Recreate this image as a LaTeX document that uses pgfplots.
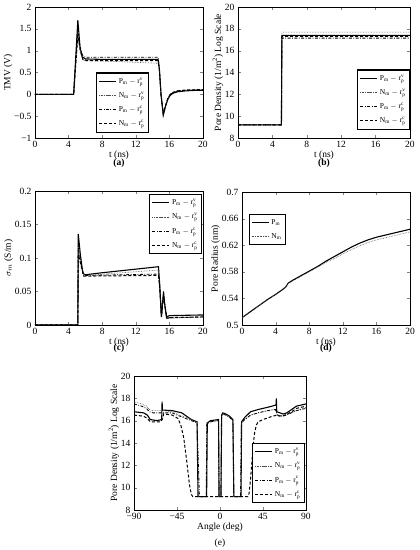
\documentclass[border=0pt]{standalone}
\usepackage{pgfplots}
\pgfplotsset{compat=1.18}
\usepackage{fontspec}
\setmainfont{Liberation Serif}
\pgfplotsset{
  every axis/.append style={
    scale only axis, anchor=south west,
    tick align=inside, tick pos=both,
    font=\fontsize{9.5}{11}\selectfont,
    /pgf/number format/assume math mode=true,
    axis line style={line width=0.6pt},
    major tick length=3pt,
    xlabel style={yshift=4pt},
    ylabel style={yshift=-5pt},
    legend cell align=left,
    legend style={font=\fontsize{7.5}{8}\selectfont, draw=black, line width=1.2pt, row sep=3.2pt, inner sep=2pt, inner ysep=3pt},
  },
  sP/.style={black, line width=1.1pt, solid},
  sN/.style={black!70, line width=0.6pt, densely dotted},
  sPc/.style={black, line width=0.8pt, dash pattern=on 3pt off 1.5pt on 0.8pt off 1.5pt},
  sNc/.style={black, line width=1pt, dash pattern=on 3pt off 2pt},
}
\begin{document}
\begin{tikzpicture}[x=1pt,y=1pt]
\path[use as bounding box] (0,0) rectangle (420,550);
% (a)
\begin{axis}[at={(35pt,412pt)}, width=168pt, height=131pt,
  xmin=0, xmax=20, ymin=-1, ymax=2,
  xtick={0,4,...,20}, ytick={-1,-0.5,0,0.5,1,1.5,2},
  yticklabels={−1,−0.5,0,0.5,1,1.5,2},
  xlabel={t (ns)}, ylabel={TMV (V)},
  legend style={at={(0.363,0.038)}, anchor=south west}]
\addplot[sP] coordinates {(0,0)(4.6,0)(5.1,1.70)(5.35,1.1)(5.6,0.86)(6.0,0.81)(8,0.80)(14.65,0.80)(14.8,0.6)(15.0,0.0)(15.27,-0.48)(15.5,-0.3)(15.8,-0.12)(16.1,-0.02)(16.5,0.03)(17,0.06)(18,0.08)(19,0.09)(20,0.09)};
\addplot[sN] coordinates {(0,0)(4.6,0)(5.1,1.30)(5.4,0.95)(5.7,0.79)(6,0.77)(10,0.75)(14.65,0.71)(14.8,0.55)(15.0,0.0)(15.27,-0.45)(15.5,-0.28)(15.8,-0.1)(16.1,0.0)(16.5,0.05)(17,0.08)(18,0.10)(20,0.11)};
\addplot[sPc] coordinates {(0,0)(4.6,0)(5.1,1.50)(5.4,1.05)(5.7,0.88)(6,0.85)(14.65,0.85)(14.8,0.62)(15.0,0.0)(15.27,-0.46)(15.5,-0.29)(15.8,-0.1)(16.1,0.0)(16.5,0.05)(17,0.08)(18,0.09)(20,0.10)};
\addplot[sNc] coordinates {(0,0)(4.6,0)(5.1,1.35)(5.4,1.0)(5.7,0.80)(6,0.77)(14.65,0.77)(14.8,0.58)(15.0,0.0)(15.27,-0.45)(15.5,-0.28)(15.8,-0.1)(16.1,0.0)(16.5,0.05)(17,0.08)(18,0.10)(20,0.11)};
\legend{$\mathrm{P_m-r_p^v}$,$\mathrm{N_m-r_p^v}$,$\mathrm{P_m-r_p^c}$,$\mathrm{N_m-r_p^c}$}
\end{axis}
% (b)
\begin{axis}[at={(238pt,412pt)}, width=172pt, height=131pt,
  xmin=0, xmax=20, ymin=8, ymax=20,
  xtick={0,4,...,20}, ytick={8,10,...,20},
  xlabel={t (ns)}, ylabel={Pore Density (1/m\textsuperscript{2}) Log Scale},
  legend style={at={(1,0.061)}, anchor=south east}]
\addplot[sP] coordinates {(0,9.2)(5.05,9.2)(5.1,17.4)(20,17.4)};
\addplot[sN] coordinates {(0,9.2)(5.05,9.2)(5.1,17.7)(20,17.7)};
\addplot[sPc] coordinates {(0,9.2)(5.05,9.2)(5.1,17.15)(20,17.15)};
\addplot[sNc] coordinates {(0,9.2)(5.05,9.2)(5.1,17.3)(20,17.3)};
\legend{$\mathrm{P_m-r_p^v}$,$\mathrm{N_m-r_p^v}$,$\mathrm{P_m-r_p^c}$,$\mathrm{N_m-r_p^c}$}
\end{axis}
% (c)
\begin{axis}[at={(35pt,225pt)}, width=168pt, height=134pt,
  xmin=0, xmax=20, ymin=0, ymax=0.2,
  xtick={0,4,...,20}, ytick={0,0.05,0.1,0.15,0.2},
  yticklabels={0,0.05,0.1,0.15,0.2},
  xlabel={t (ns)}, ylabel={$\sigma_m$ (S/m)},
  legend style={at={(0.995,0.98)}, anchor=north east}]
\addplot[sP] coordinates {(0,0)(5.1,0)(5.15,0.136)(5.4,0.105)(5.7,0.077)(6,0.075)(8,0.078)(14.7,0.087)(14.85,0.06)(15.05,0.012)(15.3,0.05)(15.45,0.03)(15.65,0.012)(16,0.014)(20,0.015)};
\addplot[sN] coordinates {(0,0)(5.1,0)(5.15,0.11)(5.5,0.09)(5.8,0.075)(6,0.074)(14.7,0.082)(14.85,0.06)(15.05,0.012)(15.3,0.045)(15.45,0.03)(15.7,0.009)(16,0.01)(20,0.012)};
\addplot[sPc] coordinates {(0,0)(5.1,0)(5.15,0.115)(5.5,0.09)(5.8,0.074)(6,0.074)(14.7,0.076)(14.85,0.055)(15.05,0.012)(15.3,0.045)(15.45,0.03)(15.7,0.01)(16,0.011)(20,0.012)};
\addplot[sNc] coordinates {(0,0)(5.1,0)(5.15,0.105)(5.5,0.088)(5.8,0.073)(6,0.073)(14.7,0.074)(14.85,0.055)(15.05,0.012)(15.3,0.044)(15.45,0.03)(15.7,0.01)(16,0.011)(20,0.012)};
\legend{$\mathrm{P_m-r_p^v}$,$\mathrm{N_m-r_p^v}$,$\mathrm{P_m-r_p^c}$,$\mathrm{N_m-r_p^c}$}
\end{axis}
% (d)
\begin{axis}[at={(242pt,225pt)}, width=168pt, height=133pt,
  xmin=0, xmax=20, ymin=0.5, ymax=0.7,
  xtick={0,4,...,20}, ytick={0.5,0.54,0.58,0.62,0.66,0.7},
  yticklabels={0.5,0.54,0.58,0.62,0.66,0.7},
  xlabel={t (ns)}, ylabel={Pore Radius (nm)},
  legend style={at={(0.04,0.835)}, anchor=north west}]
\addplot[sP] coordinates {(0,0.511)(1,0.52)(2,0.529)(3,0.538)(4,0.546)(4.8,0.553)(5.2,0.557)(5.5,0.563)(6,0.567)(7,0.574)(8,0.581)(9,0.588)(10,0.596)(11,0.603)(12,0.61)(13,0.617)(14,0.623)(15,0.628)(16,0.632)(17,0.635)(18,0.638)(19,0.641)(20,0.644)};
\addplot[sN] coordinates {(0,0.511)(1,0.52)(2,0.529)(3,0.538)(4,0.546)(4.8,0.553)(5.2,0.557)(5.5,0.562)(6,0.566)(7,0.573)(8,0.580)(9,0.587)(10,0.594)(11,0.600)(12,0.607)(13,0.613)(14,0.619)(15,0.624)(16,0.628)(17,0.631)(18,0.634)(19,0.637)(20,0.640)};
\legend{$\mathrm{P_m}$,$\mathrm{N_m}$}
\end{axis}
% (e)
\begin{axis}[at={(134pt,40pt)}, width=172pt, height=134pt,
  xmin=-90, xmax=90, ymin=8, ymax=20,
  xtick={-90,-45,0,45,90}, xticklabels={−90,−45,0,45,90},
  ytick={8,10,...,20},
  xlabel={Angle (deg)}, ylabel={Pore Density (1/m\textsuperscript{2}) Log Scale},
  legend style={at={(0.994,0.05)}, anchor=south east}]
\addplot[sP] coordinates {(-90,16.8)(-80,16.7)(-76,16.5)(-73,16.1)(-66,16.0)(-61,16.1)(-60.6,17.7)(-60.2,16.95)(-50,16.9)(-40,16.7)(-35,16.4)(-30,16.1)(-24,15.9)(-23,9.2)(-14,9.2)(-13.3,15.8)(-10,16.0)(-1.5,16.1)(-1,9.2)(1,9.2)(1.7,16.5)(3,16.7)(6,16.6)(10,16.4)(13.5,16.1)(14.5,9.2)(22,9.2)(22.6,15.9)(26,16.3)(32,16.8)(40,17.0)(50,17.2)(58.6,17.4)(59,18.0)(59.4,16.8)(66,16.6)(70,16.7)(75,17.0)(80,17.3)(90,17.5)};
\addplot[sN] coordinates {(-90,17.7)(-82,17.5)(-77,17.3)(-74,17.0)(-70,16.9)(-60,16.9)(-50,16.8)(-42,16.5)(-36,16.3)(-30,16.1)(-24,15.9)(-22.5,9.2)(-14.5,9.2)(-13.8,15.8)(-10,15.9)(-1.5,16.0)(-1,9.2)(1,9.2)(1.7,16.4)(3,16.6)(6,16.5)(10,16.3)(13.5,16.0)(14.5,9.2)(22,9.2)(22.6,15.8)(26,16.1)(32,16.5)(40,16.7)(50,16.9)(58,17.0)(60,16.5)(66,16.4)(72,16.6)(80,16.9)(90,17.2)};
\addplot[sPc] coordinates {(-90,17.5)(-82,17.3)(-77,17.1)(-74,16.8)(-70,16.7)(-61,16.7)(-50,16.7)(-42,16.4)(-36,16.2)(-30,16.0)(-24,15.8)(-21.5,9.2)(-14.5,9.2)(-13.8,15.7)(-10,15.9)(-1.5,16.0)(-1,9.2)(1,9.2)(1.7,16.4)(3,16.6)(6,16.5)(10,16.3)(13.5,16.0)(14.5,9.2)(21.5,9.2)(22.3,15.8)(26,16.1)(32,16.5)(40,16.7)(50,16.9)(58,17.0)(60,16.5)(66,16.4)(72,16.6)(80,16.9)(90,17.1)};
\addplot[sNc] coordinates {(-90,16.5)(-80,16.4)(-76,16.2)(-73,15.9)(-62,15.9)(-60,16.2)(-59,16.6)(-50,16.5)(-44,16.2)(-41,15.6)(-38,14.5)(-35,12.5)(-32,10.3)(-30,9.4)(-28.5,9.2)(29,9.2)(30.5,9.5)(32,10.8)(34,13)(36,14.8)(38,15.6)(40,15.9)(45,16.1)(55,16.4)(60,16.5)(62,16.4)(68,16.5)(75,16.8)(80,17.1)(90,17.3)};
\legend{$\mathrm{P_m-r_p^v}$,$\mathrm{N_m-r_p^v}$,$\mathrm{P_m-r_p^c}$,$\mathrm{N_m-r_p^c}$}
\end{axis}
\node[font=\bfseries\fontsize{9.5}{10}\selectfont] at (119,387) {(a)};
\node[font=\bfseries\fontsize{9.5}{10}\selectfont] at (324,387) {(b)};
\node[font=\bfseries\fontsize{9.5}{10}\selectfont] at (119,202) {(c)};
\node[font=\bfseries\fontsize{9.5}{10}\selectfont] at (326,202) {(d)};
\node[font=\fontsize{9.5}{10}\selectfont] at (220,7) {(e)};
\end{tikzpicture}
\end{document}
